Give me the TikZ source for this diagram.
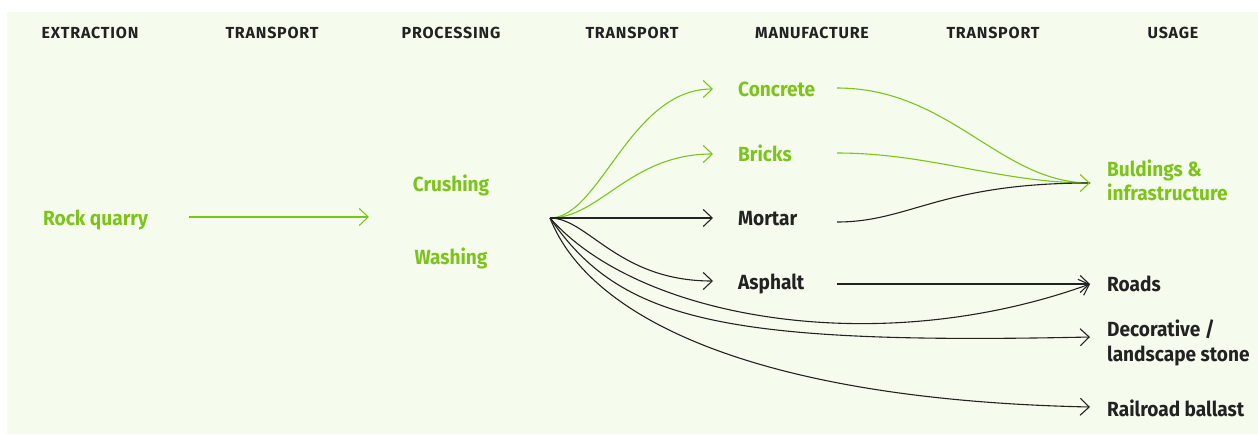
\documentclass[tikz,border=0pt]{standalone}
\usepackage{fontspec}
\setmainfont{Fira Sans}
\newfontfamily\labelfont{Fira Sans}[FakeStretch=0.93]
\usetikzlibrary{arrows.meta}
\definecolor{leaf}{HTML}{7CC41A}
\definecolor{ink}{HTML}{222222}
\definecolor{paper}{HTML}{F5FCEE}
\begin{document}
\begin{tikzpicture}[x=1pt,y=-1pt,
  stage/.style={font=\fontsize{16}{18}\selectfont\bfseries\addfontfeature{LetterSpace=5}, text=ink, anchor=base, inner sep=0},
  item/.style={font=\labelfont\fontsize{20.5}{24.5}\selectfont\bfseries, anchor=base west, inner sep=0, align=left},
  green/.style={text=leaf},
  dark/.style={text=ink},
  flow/.style={line width=1.1pt, -{Straight Barb[length=9pt,width=17pt,line width=1.1pt]}},
  gflow/.style={flow, draw=leaf},
  kflow/.style={flow, draw=ink},
  gline/.style={line width=1.1pt, draw=leaf},
  kline/.style={line width=1.1pt, draw=ink}]

\useasboundingbox (0,0) rectangle (1258,434);
\fill[paper] (7,12) rectangle (1258,434);

% stage headings
\node[stage] (h1) at (90,38.5) {EXTRACTION};
\node[stage] (h2) at (272,38.5) {TRANSPORT};
\node[stage] (h3) at (451,38.5) {PROCESSING};
\node[stage] (h4) at (632,38.5) {TRANSPORT};
\node[stage] (h5) at (812,38.5) {MANUFACTURE};
\node[stage] (h6) at (993,38.5) {TRANSPORT};
\node[stage] (h7) at (1173,38.5) {USAGE};

% extraction and processing
\node[item,green] (quarry) at (43,225.5) {Rock quarry};
\node[item,green,anchor=base] (crush) at (451,191) {Crushing};
\node[item,green,anchor=base] (wash) at (451,264) {Washing};

% manufactured products
\node[item,green] (concrete) at (738,96.5) {Concrete};
\node[item,green] (bricks) at (738,161) {Bricks};
\node[item,dark] (mortar) at (738,225) {Mortar};
\node[item,dark] (asphalt) at (738,289.5) {Asphalt};

% end uses (base anchor sits on the last line)
\node[item,green] (build) at (1107,200.5) {Buldings \&\\infrastructure};
\node[item,dark] (roads) at (1107,291.5) {Roads};
\node[item,dark] (deco) at (1107,361) {Decorative /\\landscape stone};
\node[item,dark] (rail) at (1107,416) {Railroad ballast};

% connector ports
\coordinate (q-out) at (189,217);
\coordinate (p-in) at (369,217);
\coordinate (hub) at (550,218);
\coordinate (concrete-in) at (713,89);
\coordinate (bricks-in) at (713,154);
\coordinate (mortar-in) at (713,218);
\coordinate (asphalt-in) at (713,281);
\coordinate (concrete-out) at (837,88);
\coordinate (bricks-out) at (837,153);
\coordinate (mortar-out) at (837,222);
\coordinate (asphalt-out) at (837,284);
\coordinate (build-in) at (1090,183);
\coordinate (roads-in) at (1090,284);
\coordinate (deco-in) at (1090,337);
\coordinate (rail-in) at (1090,407);

% quarry to processing
\draw[gflow] (q-out) -- (p-in);

% processing fan-out
\draw[gflow] (hub) .. controls (600,218) and (630,89) .. (concrete-in);
\draw[gflow] (hub) .. controls (600,218) and (630,154) .. (bricks-in);
\draw[kflow] (hub) -- (mortar-in);
\draw[kflow] (hub) .. controls (588,218) and (618,281) .. (asphalt-in);
\draw[kflow] (hub) .. controls (640,320) and (880,360) .. (roads-in);
\draw[kflow] (hub) .. controls (620,320) and (720,345) .. (deco-in);
\draw[kflow] (hub) .. controls (590,320) and (760,400) .. (rail-in);

% products to uses
\draw[gline] (concrete-out) .. controls (950,88) and (1000,183) .. (build-in);
\draw[gline] (bricks-out) .. controls (930,153) and (1000,183) .. (build-in);
\draw[kline] (mortar-out) .. controls (910,222) and (940,183) .. (build-in);
\draw[kflow] (asphalt-out) -- (roads-in);
% arrowhead into the buildings column
\draw[gflow] ([xshift=-2pt]build-in) -- (build-in);
\end{tikzpicture}
\end{document}
